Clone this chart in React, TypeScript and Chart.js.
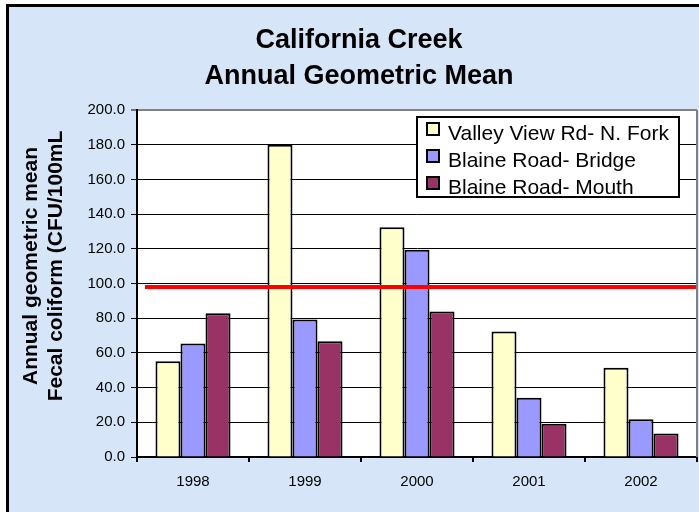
import React, { useEffect, useRef } from "react";
import { Chart, registerables } from "chart.js";

Chart.register(...registerables);

const categories = ["1998", "1999", "2000", "2001", "2002"];
const valleyView = [55.2, 180.0, 132.4, 72.3, 51.5];
const blaineBridge = [65.4, 79.2, 119.5, 34.2, 21.7];
const blaineMouth = [82.8, 66.7, 83.8, 19.2, 13.5];
const seriesNames = ["Valley View Rd- N. Fork", "Blaine Road- Bridge", "Blaine Road- Mouth"];
const seriesColors = ["#FFFFCC", "#9999FF", "#993366"];
const titleLines = ["California Creek", "Annual Geometric Mean"];
const yTitleLines = ["Annual geometric mean", "Fecal coliform (CFU/100mL"];
const referenceLevel = 98;
const yMin = 0;
const yMax = 200;
const yStep = 20;

const FONT = "Arial, 'Liberation Sans', sans-serif";
const W = 699;
const H = 512;

const decorPlugin = {
  id: "decor",
  beforeDraw(chart: any) {
    const ctx = chart.ctx;
    ctx.save();
    ctx.fillStyle = "#ffffff";
    ctx.fillRect(0, 0, W, H);
    ctx.fillStyle = "#d6e6f8";
    ctx.fillRect(6, 4, W - 6, H - 4);
    ctx.strokeStyle = "#000";
    ctx.lineWidth = 3;
    ctx.beginPath();
    ctx.moveTo(7.5, H);
    ctx.lineTo(7.5, 5.5);
    ctx.lineTo(W, 5.5);
    ctx.stroke();
    const a = chart.chartArea;
    ctx.fillStyle = "#ffffff";
    ctx.fillRect(a.left, a.top, a.right - a.left, a.bottom - a.top);
    // title
    ctx.fillStyle = "#000";
    ctx.font = `bold 27px ${FONT}`;
    ctx.textAlign = "center";
    ctx.textBaseline = "alphabetic";
    ctx.fillText(titleLines[0], 359, 48);
    ctx.fillText(titleLines[1], 359, 84);
    // y axis title
    ctx.font = `bold 21px ${FONT}`;
    ctx.translate(0, 266);
    ctx.rotate(-Math.PI / 2);
    ctx.fillText(yTitleLines[0], 0, 37);
    ctx.fillText(yTitleLines[1], 0, 62);
    ctx.restore();
  },
  afterDatasetsDraw(chart: any) {
    const ctx = chart.ctx;
    const a = chart.chartArea;
    const y = chart.scales.y.getPixelForValue(referenceLevel);
    ctx.save();
    ctx.strokeStyle = "#ff0000";
    ctx.lineWidth = 4;
    ctx.beginPath();
    ctx.moveTo(a.left + 8, y);
    ctx.lineTo(a.right - 1, y);
    ctx.stroke();
    // right plot border (gray)
    ctx.strokeStyle = "#808080";
    ctx.lineWidth = 2;
    ctx.beginPath();
    ctx.moveTo(a.right, a.top);
    ctx.lineTo(a.right, a.bottom);
    ctx.stroke();
    // legend
    const lx = 417, ly = 117, lw = 262, lh = 80;
    ctx.fillStyle = "#fff";
    ctx.fillRect(lx, ly, lw, lh);
    ctx.strokeStyle = "#000";
    ctx.lineWidth = 2;
    ctx.strokeRect(lx, ly, lw, lh);
    ctx.font = `21px ${FONT}`;
    ctx.textAlign = "left";
    ctx.textBaseline = "alphabetic";
    seriesNames.forEach((name, i) => {
      const sy = 123 + i * 27;
      ctx.fillStyle = seriesColors[i];
      ctx.fillRect(427, sy, 12, 12);
      ctx.strokeStyle = "#000";
      ctx.lineWidth = 2;
      ctx.strokeRect(427, sy, 12, 12);
      ctx.fillStyle = "#000";
      ctx.fillText(name, 448, 140 + i * 27);
    });
    ctx.restore();
  },
};

export default function App() {
  const ref = useRef<HTMLCanvasElement | null>(null);
  useEffect(() => {
    document.body.style.margin = "0";
    if (!ref.current) return;
    const chart = new Chart(ref.current, {
      type: "bar",
      data: {
        labels: categories,
        datasets: [valleyView, blaineBridge, blaineMouth].map((d, i) => ({
          label: seriesNames[i],
          data: d,
          backgroundColor: seriesColors[i],
          borderColor: "#000",
          borderWidth: 2,
          categoryPercentage: 0.67,
          barPercentage: 1.0,
        })),
      },
      options: {
        responsive: false,
        animation: false,
        maintainAspectRatio: false,
        layout: { padding: { left: 0, top: 110, right: 2, bottom: 0 } },
        plugins: {
          legend: { display: false },
          title: { display: false },
          tooltip: { enabled: false },
        },
        scales: {
          x: {
            offset: true,
            afterFit: (s: any) => {
              s.height = 55;
            },
            grid: {
              offset: true,
              drawOnChartArea: false,
              drawTicks: true,
              tickLength: 5,
              color: "#000",
              lineWidth: 2,
            },
            border: { color: "#000", width: 2 },
            ticks: {
              color: "#000",
              padding: 11,
              font: { family: FONT, size: 15 },
              maxRotation: 0,
            },
          },
          y: {
            min: yMin,
            max: yMax,
            afterFit: (s: any) => {
              s.width = 137;
            },
            grid: {
              color: (c: any) => (c.tick && c.tick.value === yMax ? "#808080" : "#000"),
              lineWidth: (c: any) => (c.tick && c.tick.value === yMax ? 2 : 1),
              tickColor: "#000",
              tickWidth: 1,
              tickLength: 6,
            },
            border: { color: "#000", width: 2 },
            ticks: {
              stepSize: yStep,
              color: "#000",
              padding: 6,
              font: { family: FONT, size: 15 },
              callback: (v: any) => Number(v).toFixed(1),
            },
          },
        },
      },
      plugins: [decorPlugin],
    });
    return () => chart.destroy();
  }, []);
  return (
    <div style={{ position: "absolute", left: 0, top: 0, width: W, height: H }}>
      <canvas ref={ref} width={W} height={H} style={{ width: W, height: H, display: "block" }} />
    </div>
  );
}
